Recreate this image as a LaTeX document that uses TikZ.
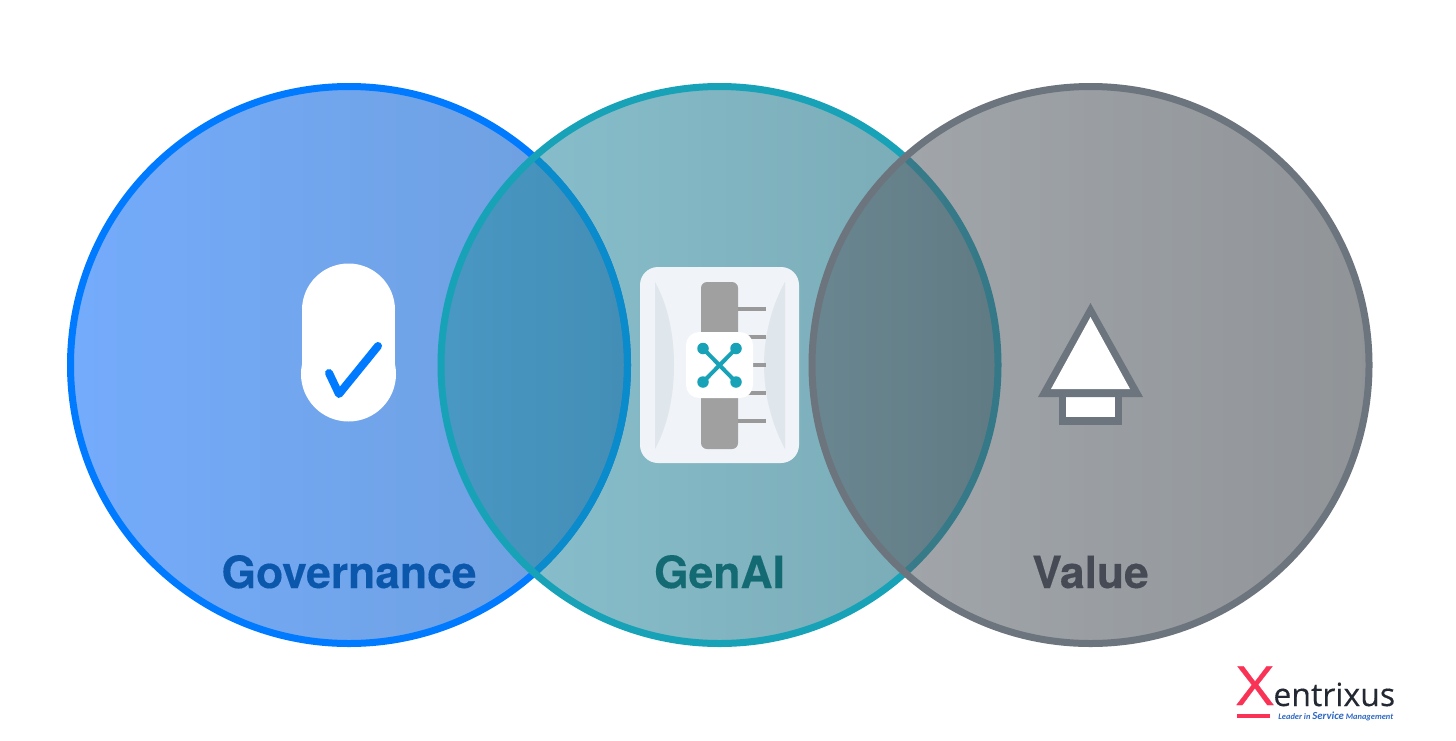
\documentclass[tikz,border=0pt]{standalone}
\usepackage{fontspec}
\setmainfont[BoldFeatures={FakeBold=0.3}]{TeX Gyre Heros}
\newfontfamily\logoboldfont[FakeBold=0.25]{Open Sans}
\newfontfamily\markfont[FakeBold=0.5]{Open Sans}
\newfontfamily\leadfont{Carlito}
\definecolor{cBlue}{RGB}{0,123,255}
\definecolor{cBlueThru}{RGB}{10,140,204}
\definecolor{cTeal}{RGB}{23,162,184}
\definecolor{cGray}{RGB}{108,117,125}
\definecolor{cPanel}{RGB}{240,243,248}
\definecolor{cLens}{RGB}{223,230,236}
\definecolor{cBar}{RGB}{160,160,160}
\definecolor{cTick}{RGB}{153,153,153}
\definecolor{cRed}{RGB}{250,50,85}
\definecolor{cLead}{RGB}{45,105,195}
\definecolor{cInk}{RGB}{35,40,50}
\definecolor{blueA}{RGB}{116,171,251}
\definecolor{blueB}{RGB}{110,159,220}
\definecolor{tealA}{RGB}{42,143,168}
\definecolor{tealB}{RGB}{10,99,118}
\definecolor{grayA}{RGB}{90,99,108}
\definecolor{grayB}{RGB}{54,61,68}
\tikzset{
  x=0.5pt,y=-0.5pt,
  ring/.style={line width=3.5pt},
  caption/.style={font=\fontsize{22.2}{26}\selectfont\bfseries,anchor=base},
  tick/.style={draw=cTick,line width=2pt},
  dot/.style={circle,fill=cTeal,inner sep=0pt,minimum size=5.75pt},
  wire/.style={draw=cTeal,line width=2pt},
}
\begin{document}
\begin{tikzpicture}
\useasboundingbox (0,0) rectangle (1456,740);
\fill[white] (0,0) rectangle (1456,740);
% left circle
\shade[left color=blueA,right color=blueB] (349,365) circle [radius=278.5];
\draw[ring,cBlue] (349,365) circle [radius=278.5];
% middle circle
\shade[fill opacity=.55,left color=tealA,right color=tealB] (719.5,365) circle [radius=278.5];
\begin{scope}
\clip (719.5,365) circle [radius=278.5];
\draw[ring,cBlueThru] (349,365) circle [radius=278.5];
\end{scope}
\draw[ring,cTeal] (719.5,365) circle [radius=278.5];
% right circle
\shade[fill opacity=.55,left color=grayA,right color=grayB] (1090.5,365) circle [radius=278.5];
\draw[ring,cGray] (1090.5,365) circle [radius=278.5];
% capsule icon
\fill[white] (348.5,310) circle [radius=46.5];
\fill[white] (348.5,374) circle [radius=47.5];
\fill[white] (302,310) rectangle (395,374);
\draw[cBlue,line width=4pt,line cap=round,line join=round] (329,373) -- (339,394) -- (378,346);
% centre icon
\fill[cPanel,rounded corners=9pt] (640,267) rectangle (799,463);
\fill[cLens] (655,282) .. controls (668,305) and (674,335) .. (674,365) .. controls (674,395) and (668,425) .. (655,449) -- cycle;
\fill[cLens] (785,282) .. controls (772,305) and (764,335) .. (764,365) .. controls (764,395) and (772,425) .. (785,449) -- cycle;
\fill[cBar,rounded corners=3pt] (701,282) rectangle (738,449);
\foreach \yy in {309,337,365,393,421} \draw[tick] (738,\yy) -- (766,\yy);
\fill[white,rounded corners=6.5pt] (686,332) rectangle (753,398);
\node[dot] (d1) at (703,348.5) {};
\node[dot] (d2) at (736,348.5) {};
\node[dot] (d3) at (703,382) {};
\node[dot] (d4) at (736,382) {};
\draw[wire] (d1.center) -- (d4.center);
\draw[wire] (d2.center) -- (d3.center);
% arrow icon
\fill[cGray] (1059,393) rectangle (1122,425);
\fill[white] (1066,397) rectangle (1115,417);
\fill[cGray] (1090.5,303) -- (1143,397) -- (1038,397) -- cycle;
\fill[white] (1090.5,317) -- (1130,389) -- (1051,389) -- cycle;
% captions
\node[caption,text={rgb,255:red,11;green,87;blue,172}] (gov) at (349,588) {Governance};
\node[caption,text={rgb,255:red,20;green,106;blue,114}] (gen) at (719.5,588) {GenAI};
\node[caption,text={rgb,255:red,69;green,74;blue,84}] (val) at (1090.5,588) {Value};
% logo
\node[font=\markfont\fontsize{27}{30}\selectfont,text=cRed,anchor=base,inner sep=0pt,xscale=1.2] (lx) at (1255,705) {X};
\fill[cRed] (1237,714) rectangle (1270,718);
\node[font=\logoboldfont\fontsize{16}{18}\selectfont,text=cInk,anchor=base west,inner sep=0pt] (lw) at (1273,706) {entrixus};
\node[font=\leadfont\bfseries\itshape\fontsize{4.2}{5}\selectfont,text=cLead,anchor=base west,inner sep=0pt] (ls) at (1278,719) {Leader in {\fontsize{5.4}{5}\selectfont Service} Management};
\end{tikzpicture}
\end{document}
